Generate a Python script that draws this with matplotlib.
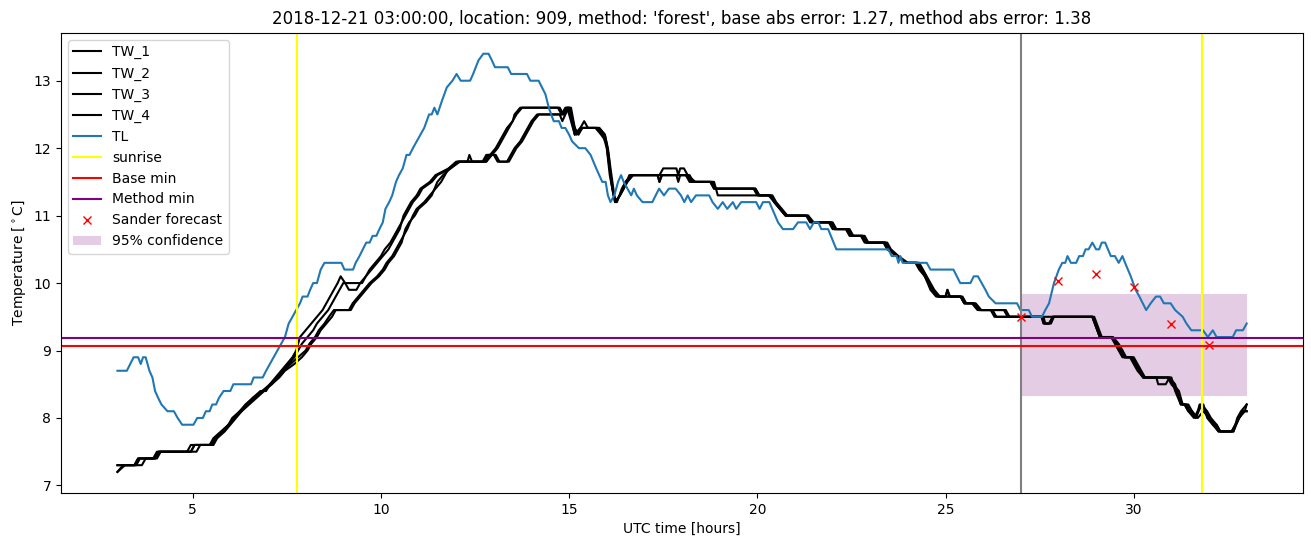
import matplotlib
matplotlib.use("Agg")
import matplotlib.pyplot as plt

# TL (air temperature): hour, degC
tl_t = [3.0, 3.25, 3.43, 3.55, 3.62, 3.68, 3.75, 3.85, 3.93, 4.0, 4.08, 4.17, 4.33, 4.5, 4.6, 4.72,
        5.02, 5.12, 5.27, 5.35, 5.45, 5.52, 5.62, 5.7, 5.82, 6.0, 6.08, 6.55, 6.62, 6.86, 6.95,
        7.05, 7.15, 7.25, 7.35, 7.45, 7.55, 7.65, 7.75, 7.85, 7.92, 8.05, 8.12, 8.2, 8.3, 8.4, 8.5,
        8.95, 9.03, 9.26, 9.33, 9.43, 9.52, 9.61, 9.7, 9.78, 9.88, 9.96, 10.05, 10.12, 10.22, 10.3,
        10.4, 10.48, 10.58, 10.68, 10.76, 10.85, 10.95, 11.05, 11.15, 11.28, 11.35, 11.42, 11.5,
        11.62, 11.75, 11.9, 12.01, 12.12, 12.37, 12.45, 12.52, 12.59, 12.72, 12.86, 12.95, 13.03,
        13.37, 13.46, 13.88, 13.97, 14.19, 14.28, 14.37, 14.46, 14.59, 14.73, 14.8, 14.9, 15.0,
        15.08, 15.26, 15.43, 15.57, 15.72, 15.88, 15.97, 16.03, 16.1, 16.2, 16.3, 16.38, 16.45,
        16.55, 16.65, 16.72, 16.8, 16.95, 17.21, 17.39, 17.52, 17.65, 17.83, 17.97, 18.06, 18.15,
        18.24, 18.37, 18.72, 18.81, 18.95, 19.08, 19.2, 19.35, 19.44, 19.57, 19.97, 20.06, 20.15,
        20.32, 20.55, 20.68, 20.95, 21.08, 21.3, 21.4, 21.5, 21.62, 21.7, 21.88, 22.1, 23.48,
        23.57, 23.7, 23.75, 23.8, 23.86, 24.5, 24.6, 25.21, 25.39, 25.66, 25.75, 25.86, 26.06,
        26.15, 26.33, 26.9, 26.99, 27.21, 27.3, 27.56, 27.65, 27.75, 27.88, 28.01, 28.1, 28.18,
        28.24, 28.33, 28.47, 28.55, 28.65, 28.72, 28.8, 28.9, 29.0, 29.08, 29.15, 29.24, 29.39,
        29.5, 29.6, 29.7, 29.77, 29.92, 30.05, 30.15, 30.33, 30.45, 30.59, 30.7, 30.8, 30.98,
        31.1, 31.3, 31.4, 31.53, 31.84, 31.97, 32.1, 32.2, 32.63, 32.72, 32.9, 33.0]
tl_v = [8.7, 8.7, 8.9, 8.9, 8.8, 8.9, 8.9, 8.7, 8.6, 8.4, 8.3, 8.2, 8.1, 8.1, 8.0, 7.9,
        7.9, 8.0, 8.0, 8.1, 8.1, 8.2, 8.2, 8.3, 8.4, 8.4, 8.5, 8.5, 8.6, 8.6, 8.7,
        8.8, 8.9, 9.0, 9.1, 9.2, 9.4, 9.5, 9.6, 9.7, 9.8, 9.8, 9.9, 10.0, 10.0, 10.2, 10.3,
        10.3, 10.2, 10.2, 10.3, 10.4, 10.5, 10.6, 10.6, 10.7, 10.7, 10.8, 10.9, 11.1, 11.2, 11.3,
        11.5, 11.6, 11.7, 11.9, 11.9, 12.0, 12.1, 12.2, 12.3, 12.5, 12.5, 12.6, 12.5,
        12.7, 12.9, 13.0, 13.1, 13.0, 13.0, 13.1, 13.2, 13.3, 13.4, 13.4, 13.3, 13.2,
        13.2, 13.1, 13.1, 13.0, 13.0, 12.9, 12.8, 12.6, 12.4, 12.4, 12.3, 12.3, 12.2,
        12.1, 12.0, 12.0, 11.9, 11.7, 11.5, 11.5, 11.3, 11.2, 11.3, 11.5, 11.6, 11.5,
        11.4, 11.3, 11.4, 11.3, 11.2, 11.2, 11.4, 11.3, 11.4, 11.4, 11.3, 11.2, 11.3,
        11.2, 11.3, 11.3, 11.2, 11.1, 11.2, 11.1, 11.2, 11.1, 11.2, 11.2, 11.1, 11.2,
        11.2, 10.9, 10.8, 10.8, 10.9, 10.9, 10.8, 10.9, 10.9, 10.8, 10.8, 10.5, 10.5,
        10.4, 10.4, 10.3, 10.4, 10.3, 10.3, 10.2, 10.2, 10.0, 10.0, 10.1, 10.1, 9.9,
        9.8, 9.7, 9.7, 9.6, 9.6, 9.5, 9.5, 9.6, 9.7, 10.0, 10.2, 10.3, 10.3,
        10.4, 10.3, 10.3, 10.4, 10.4, 10.5, 10.5, 10.6, 10.5, 10.5, 10.6, 10.6, 10.4,
        10.4, 10.3, 10.4, 10.3, 10.1, 9.9, 9.8, 9.6, 9.7, 9.8, 9.8, 9.7, 9.7,
        9.6, 9.5, 9.4, 9.3, 9.3, 9.2, 9.3, 9.2, 9.2, 9.3, 9.3, 9.4]

# TW sensors
tw1_t = [3.0, 3.45, 3.55, 3.95, 4.05, 4.95, 5.05, 5.45, 5.55, 5.75, 5.95, 6.05, 6.25, 6.4, 6.6,
         6.8, 6.95, 7.05, 7.2, 7.35, 7.5, 7.65, 7.75, 7.85, 8.0, 8.15, 8.3, 8.45, 8.55, 8.65, 8.75,
         8.85, 8.93, 9.05, 9.15, 9.35, 9.45, 9.6, 9.75, 9.9, 10.05, 10.2, 10.3, 10.4, 10.5, 10.6,
         10.7, 10.8, 10.95, 11.05, 11.3, 11.45, 11.8, 12.0, 12.3, 12.35, 12.42, 12.8, 12.9, 13.05,
         13.15, 13.25, 13.35, 13.5, 13.55, 13.7, 14.75, 14.85, 14.95, 15.05, 15.15, 15.3, 15.8,
         15.95, 16.05, 16.12, 16.22, 16.35, 16.45, 16.55, 16.7, 17.4, 17.5, 17.85, 17.9, 17.95,
         18.05, 18.15, 18.35, 18.75, 18.85, 19.95, 20.05, 20.35, 20.45, 20.6, 20.75, 21.35, 21.45,
         21.95, 22.05, 22.4, 22.5, 22.8, 22.9, 23.4, 23.5, 23.7, 23.95, 24.25, 24.35, 24.45, 24.55,
         24.65, 24.8, 25.0, 25.05, 25.1, 25.4, 25.5, 25.75, 25.9, 26.55, 26.65, 28.9, 29.1, 29.4,
         29.55, 29.7, 29.75, 29.95, 30.05, 30.15, 30.25, 30.95, 31.05, 31.2, 31.3, 31.4, 31.5,
         31.65, 31.8, 31.95, 32.05, 32.2, 32.3, 32.65, 32.75, 32.85, 33.0]
tw1_v = [7.3, 7.3, 7.4, 7.4, 7.5, 7.5, 7.6, 7.6, 7.7, 7.8, 7.9, 8.0, 8.1, 8.2, 8.3,
         8.4, 8.4, 8.5, 8.6, 8.7, 8.8, 8.9, 9.0, 9.2, 9.3, 9.4, 9.5, 9.6, 9.7, 9.8, 9.9,
         10.0, 10.1, 10.0, 9.9, 9.9, 10.0, 10.1, 10.2, 10.3, 10.4, 10.5, 10.6, 10.7, 10.8, 11.0,
         11.1, 11.2, 11.3, 11.4, 11.5, 11.6, 11.7, 11.8, 11.8, 11.9, 11.8, 11.8, 11.9, 12.0,
         12.1, 12.2, 12.3, 12.4, 12.5, 12.6, 12.6, 12.5, 12.6, 12.4, 12.2, 12.3, 12.3,
         12.2, 11.9, 11.5, 11.2, 11.3, 11.4, 11.5, 11.6, 11.6, 11.7, 11.7, 11.6, 11.7,
         11.7, 11.6, 11.5, 11.5, 11.4, 11.4, 11.3, 11.3, 11.2, 11.1, 11.0, 11.0, 10.9,
         10.9, 10.8, 10.8, 10.7, 10.7, 10.6, 10.6, 10.5, 10.4, 10.3, 10.3, 10.2, 10.1, 10.0,
         9.9, 9.8, 9.8, 9.9, 9.8, 9.8, 9.7, 9.7, 9.6, 9.6, 9.5, 9.5, 9.2, 9.2,
         9.1, 9.0, 8.9, 8.9, 8.8, 8.7, 8.6, 8.6, 8.5, 8.4, 8.2, 8.2, 8.1,
         8.0, 8.2, 8.1, 8.0, 7.9, 7.8, 7.8, 8.0, 8.1, 8.2]

tw2_t = [3.0, 3.15, 3.5, 3.6, 4.0, 4.1, 4.85, 4.95, 5.5, 5.6, 5.8, 5.95, 6.1, 6.25, 6.45, 6.6,
         6.85, 7.1, 7.25, 7.4, 7.55, 7.7, 7.8, 7.9, 8.05, 8.2, 8.3, 8.45, 8.6, 8.7, 8.8, 8.9, 9.0,
         9.5, 9.6, 9.7, 9.85, 10.0, 10.1, 10.25, 10.35, 10.45, 10.55, 10.65, 10.75, 10.85, 11.0,
         11.1, 11.35, 11.5, 11.85, 12.05, 12.8, 12.95, 13.1, 13.2, 13.3, 13.4, 13.5, 13.6, 13.75,
         14.7, 14.8, 14.9, 15.0, 15.1, 15.2, 15.35, 15.8, 15.95, 16.03, 16.1, 16.2, 16.25, 16.35,
         16.5, 16.65, 17.35, 17.4, 17.47, 17.85, 17.9, 17.95, 18.2, 18.3, 18.8, 18.9, 19.95, 20.05,
         20.4, 20.5, 20.65, 20.8, 21.3, 21.45, 22.0, 22.1, 22.45, 22.55, 22.85, 22.95, 23.45, 23.55,
         23.75, 24.0, 24.3, 24.4, 24.5, 24.6, 24.7, 24.85, 25.45, 25.55, 25.8, 25.95, 26.2, 26.3,
         27.6, 27.65, 27.75, 27.85, 28.95, 29.15, 29.45, 29.6, 29.7, 29.8, 30.0, 30.1, 30.2, 30.3,
         30.95, 31.1, 31.2, 31.3, 31.45, 31.55, 31.7, 31.85, 32.0, 32.1, 32.2, 32.3, 32.65, 32.8,
         32.9, 33.0]
tw2_v = [7.2, 7.3, 7.3, 7.4, 7.4, 7.5, 7.5, 7.6, 7.6, 7.7, 7.8, 7.9, 8.0, 8.1, 8.2, 8.3,
         8.4, 8.5, 8.6, 8.7, 8.8, 8.9, 9.0, 9.1, 9.2, 9.3, 9.4, 9.5, 9.6, 9.7, 9.8, 9.9, 10.0,
         10.0, 10.1, 10.2, 10.3, 10.4, 10.5, 10.6, 10.7, 10.8, 10.9, 11.0, 11.1, 11.2, 11.3,
         11.4, 11.5, 11.6, 11.7, 11.8, 11.8, 11.9, 12.0, 12.1, 12.2, 12.3, 12.4, 12.5, 12.6,
         12.6, 12.5, 12.6, 12.6, 12.4, 12.2, 12.3, 12.3, 12.2, 12.0, 11.7, 11.3, 11.2, 11.3,
         11.5, 11.6, 11.6, 11.5, 11.6, 11.6, 11.5, 11.6, 11.6, 11.5, 11.5, 11.4, 11.4, 11.3,
         11.3, 11.2, 11.1, 11.0, 11.0, 10.9, 10.9, 10.8, 10.8, 10.7, 10.7, 10.6, 10.6, 10.5,
         10.4, 10.3, 10.3, 10.2, 10.1, 10.0, 9.9, 9.8, 9.8, 9.7, 9.7, 9.6, 9.6, 9.5,
         9.5, 9.4, 9.4, 9.5, 9.5, 9.2, 9.2, 9.1, 9.0, 8.9, 8.9, 8.8, 8.7, 8.6,
         8.6, 8.5, 8.3, 8.2, 8.2, 8.1, 8.0, 8.1, 8.0, 7.9, 7.9, 7.8, 7.8, 8.0,
         8.1, 8.1]

tw3_t = [3.0, 3.2, 3.65, 3.75, 4.05, 4.15, 5.1, 5.2, 5.55, 5.65, 5.85, 6.0, 6.15, 6.3, 6.5, 6.7,
         6.9, 7.1, 7.3, 7.45, 7.7, 7.9, 8.05, 8.15, 8.3, 8.4, 8.55, 8.7, 8.8, 9.2, 9.3, 9.45, 9.6,
         9.75, 9.95, 10.1, 10.2, 10.35, 10.45, 10.55, 10.65, 10.75, 10.9, 11.0, 11.2, 11.35, 11.5,
         11.65, 11.85, 12.1, 12.7, 12.8, 13.0, 13.1, 13.4, 13.5, 13.6, 13.75, 13.85, 13.95, 14.05,
         14.2, 14.75, 14.82, 14.9, 15.0, 15.05, 15.15, 15.3, 15.4, 15.5, 15.75, 15.9, 16.0, 16.08,
         16.18, 16.27, 16.4, 16.5, 16.65, 18.1, 18.2, 18.85, 18.95, 20.3, 20.45, 20.6, 20.75, 21.35,
         21.5, 21.95, 22.05, 22.4, 22.5, 22.8, 22.9, 23.4, 23.5, 23.7, 23.95, 24.25, 24.35, 24.45,
         24.6, 24.75, 25.0, 25.05, 25.12, 25.4, 25.5, 25.75, 25.9, 26.6, 26.7, 27.55, 27.62, 27.8,
         27.88, 28.9, 29.1, 29.4, 29.55, 29.65, 29.75, 29.95, 30.05, 30.15, 30.25, 30.6, 30.65,
         30.85, 30.95, 31.0, 31.1, 31.25, 31.35, 31.45, 31.55, 31.65, 31.75, 31.85, 31.95, 32.1,
         32.25, 32.6, 32.7, 32.8, 32.9, 33.0]
tw3_v = [7.2, 7.3, 7.3, 7.4, 7.4, 7.5, 7.5, 7.6, 7.6, 7.7, 7.8, 7.9, 8.0, 8.1, 8.2, 8.3,
         8.4, 8.5, 8.6, 8.7, 8.8, 8.9, 9.0, 9.1, 9.2, 9.3, 9.4, 9.5, 9.6, 9.6, 9.7, 9.8, 9.9,
         10.0, 10.1, 10.2, 10.3, 10.4, 10.5, 10.6, 10.8, 10.9, 11.0, 11.1, 11.2, 11.3, 11.5,
         11.6, 11.7, 11.8, 11.8, 11.9, 11.9, 11.8, 11.8, 11.9, 12.0, 12.1, 12.2, 12.3, 12.4,
         12.5, 12.5, 12.4, 12.5, 12.6, 12.5, 12.2, 12.3, 12.4, 12.3, 12.3, 12.2, 12.0, 11.6,
         11.3, 11.2, 11.4, 11.5, 11.6, 11.6, 11.5, 11.5, 11.3, 11.3, 11.2, 11.1, 11.0, 11.0,
         10.9, 10.9, 10.8, 10.8, 10.7, 10.7, 10.6, 10.6, 10.5, 10.4, 10.3, 10.3, 10.2, 10.1,
         9.9, 9.8, 9.8, 9.9, 9.8, 9.8, 9.7, 9.7, 9.6, 9.6, 9.5, 9.5, 9.4, 9.4,
         9.5, 9.5, 9.2, 9.2, 9.1, 9.0, 8.9, 8.9, 8.8, 8.7, 8.6, 8.6, 8.5,
         8.5, 8.6, 8.6, 8.4, 8.2, 8.2, 8.1, 8.1, 8.0, 8.2, 8.2, 8.0, 7.9,
         7.8, 7.8, 7.9, 8.0, 8.1, 8.1]

tw4_t = [3.0, 3.45, 3.55, 4.0, 4.1, 4.95, 5.05, 5.5, 5.6, 5.8, 5.95, 6.1, 6.3, 6.45, 6.65, 6.85,
         7.05, 7.25, 7.4, 7.6, 7.8, 8.0, 8.1, 8.25, 8.35, 8.5, 8.62, 8.75, 9.15, 9.25, 9.4, 9.55,
         9.7, 9.9, 10.05, 10.15, 10.3, 10.4, 10.5, 10.6, 10.7, 10.85, 10.95, 11.15, 11.3, 11.45,
         11.6, 11.8, 12.05, 12.75, 12.85, 13.05, 13.15, 13.35, 13.45, 13.55, 13.7, 13.8, 13.9,
         14.0, 14.15, 14.7, 14.85, 14.95, 15.05, 15.15, 15.25, 15.35, 15.7, 15.85, 15.98, 16.05,
         16.15, 16.22, 16.35, 16.45, 16.6, 17.35, 17.4, 17.45, 18.15, 18.25, 18.75, 18.85, 19.9,
         20.0, 20.35, 20.45, 20.6, 20.75, 21.3, 21.4, 21.9, 22.0, 22.35, 22.45, 22.75, 22.85, 23.35,
         23.45, 23.7, 23.95, 24.2, 24.3, 24.45, 24.55, 24.65, 24.8, 25.4, 25.5, 25.7, 25.85, 26.25,
         26.35, 27.55, 27.6, 27.75, 27.85, 28.9, 29.1, 29.4, 29.5, 29.6, 29.7, 29.9, 30.0, 30.1,
         30.25, 30.9, 31.0, 31.15, 31.25, 31.35, 31.45, 31.6, 31.8, 31.9, 32.0, 32.15, 32.25, 32.6,
         32.7, 32.8, 32.95, 33.0]
tw4_v = [7.3, 7.3, 7.4, 7.4, 7.5, 7.5, 7.6, 7.6, 7.7, 7.8, 7.9, 8.0, 8.1, 8.2, 8.3, 8.4,
         8.5, 8.6, 8.7, 8.8, 8.9, 9.0, 9.1, 9.2, 9.3, 9.4, 9.5, 9.6, 9.6, 9.7, 9.8, 9.9,
         10.0, 10.1, 10.2, 10.3, 10.4, 10.5, 10.6, 10.7, 10.8, 11.0, 11.1, 11.2, 11.3, 11.4,
         11.5, 11.7, 11.8, 11.8, 11.9, 11.9, 11.8, 11.8, 11.9, 12.0, 12.1, 12.2, 12.3,
         12.4, 12.5, 12.5, 12.5, 12.6, 12.6, 12.3, 12.2, 12.3, 12.3, 12.2, 12.1, 11.8,
         11.4, 11.2, 11.3, 11.4, 11.6, 11.6, 11.5, 11.6, 11.6, 11.5, 11.5, 11.4, 11.4,
         11.3, 11.3, 11.2, 11.1, 11.0, 11.0, 10.9, 10.9, 10.8, 10.8, 10.7, 10.7, 10.6, 10.6,
         10.5, 10.4, 10.3, 10.3, 10.2, 10.1, 10.0, 9.9, 9.8, 9.8, 9.7, 9.7, 9.6, 9.6,
         9.5, 9.5, 9.4, 9.4, 9.5, 9.5, 9.2, 9.2, 9.1, 9.0, 8.9, 8.9, 8.8, 8.7,
         8.6, 8.6, 8.5, 8.4, 8.2, 8.2, 8.1, 8.0, 8.2, 8.1, 8.0, 7.9, 7.8, 7.8,
         7.9, 8.0, 8.1, 8.2]

sunrise = [7.76, 31.8]
forecast_start = 27.0
base_min = 9.07
method_min = 9.19
sander_t = [27, 28, 29, 30, 31, 32]
sander_v = [9.5, 10.03, 10.14, 9.94, 9.4, 9.08]
conf_t = [27.0, 33.0]
conf_lo = [8.32, 8.32]
conf_hi = [9.84, 9.84]

fig, ax = plt.subplots(figsize=(13.11, 5.47), dpi=100)
fig.subplots_adjust(left=0.0465, right=0.994, bottom=0.099, top=0.94)

ax.plot(tw1_t, tw1_v, color='black', label='TW_1')
ax.plot(tw2_t, tw2_v, color='black', label='TW_2')
ax.plot(tw3_t, tw3_v, color='black', label='TW_3')
ax.plot(tw4_t, tw4_v, color='black', label='TW_4')
ax.plot(tl_t, tl_v, color='C0', label='TL')

ax.axvline(sunrise[0], color='yellow', label='sunrise')
ax.axvline(sunrise[1], color='yellow')
ax.axvline(forecast_start, color='gray')
ax.axhline(base_min, color='red', label='Base min')
ax.axhline(method_min, color='purple', label='Method min')
ax.plot(sander_t, sander_v, 'x', color='red', label='Sander forecast')
ax.fill_between(conf_t, conf_lo, conf_hi, color='purple', alpha=0.2, linewidth=0,
                label='95% confidence')

ax.set_xlabel('UTC time [hours]')
ax.set_ylabel(r'Temperature [$^\circ$C]')
ax.set_title("2018-12-21 03:00:00, location: 909, method: 'forest', "
             "base abs error: 1.27, method abs error: 1.38")
ax.legend(loc='upper left')

plt.savefig('out.png', dpi=100)
